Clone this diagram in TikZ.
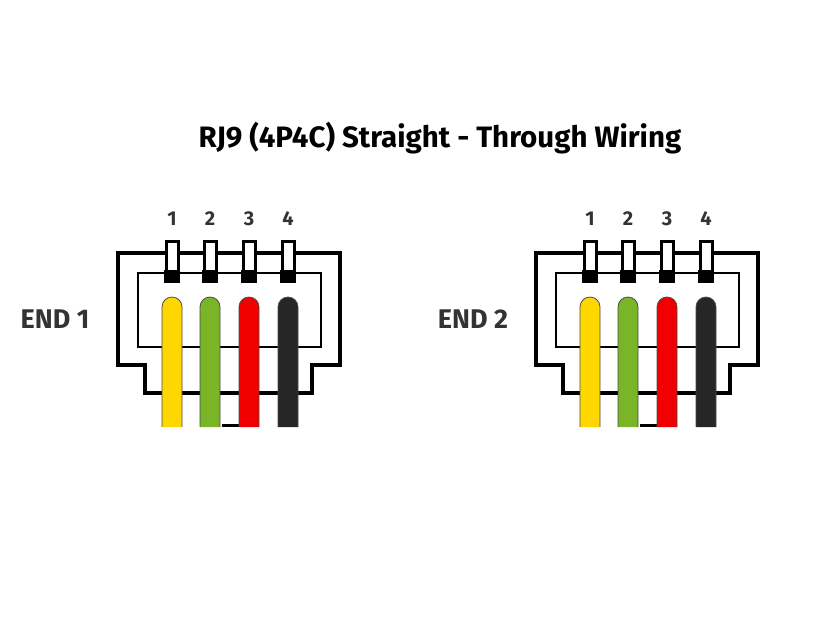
\documentclass[tikz,border=0pt]{standalone}
\usepackage{fontspec}
\setmainfont{Fira Sans}
\definecolor{wy}{HTML}{FFD700}
\definecolor{wg}{HTML}{7AB527}
\definecolor{wr}{HTML}{F00000}
\definecolor{wk}{HTML}{262626}
\begin{document}
\begin{tikzpicture}[x=1pt,y=-1pt,
  outl/.style={draw=black,line width=3.5pt},
  innl/.style={draw=black,line width=2.5pt},
  pin/.style={draw=black,fill=white,line width=3pt},
  lbl/.style={font=\bfseries\fontsize{27}{29}\selectfont,text=black!80},
  num/.style={font=\bfseries\fontsize{20}{22}\selectfont,text=black!80}]
\useasboundingbox (0,0) rectangle (840,622);
\node[font=\bfseries\fontsize{29.5}{32}\selectfont] (title) at (440,138) {RJ9 (4P4C) Straight - Through Wiring};
\foreach \o/\e in {0/1,418/2}{
  \begin{scope}[xshift=\o pt]
  \node[lbl] (end\e) at (55,319) {END \e};
  \draw[outl] (145,393) -- (145,365) -- (118,365) -- (118,253) -- (340,253) -- (340,365) -- (312,365) -- (312,393) -- cycle;
  \draw[innl] (138,273) rectangle (321,347);
  \foreach \x/\n in {172/1,210/2,249/3,288/4}{
    \node[num] (n\e\n) at (\x,219) {\n};
    \draw[pin] (\x-6,241) rectangle (\x+6,281);
    \fill[black] (\x-8,270) rectangle (\x+8,283);
  }
  \draw[black,line width=3pt] (222,425) -- (240,425);
  \foreach \x/\c in {172/wy,210/wg,249/wr,288/wk}{
    \filldraw[fill=\c,draw=black!70,line width=0.8pt] (\x-10,427) -- (\x-10,307) arc[start angle=180,end angle=360,radius=10] -- (\x+10,427);
  }
  \end{scope}
}
\end{tikzpicture}
\end{document}
